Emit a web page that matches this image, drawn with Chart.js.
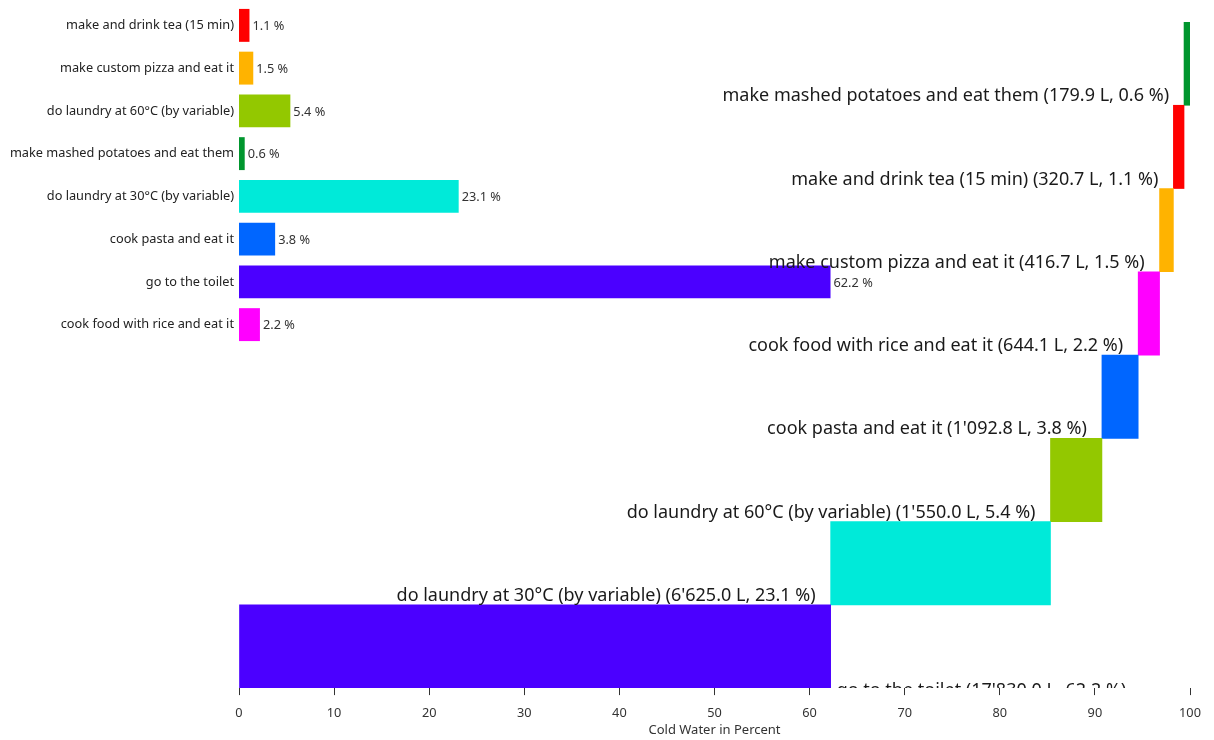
<!DOCTYPE html>
<html>
<head>
<meta charset="utf-8">
<script src="https://cdn.jsdelivr.net/npm/chart.js@4"></script>
<style>
  body { margin: 0; background: #fff; }
  #wrap { position: relative; width: 1214px; height: 740px; }
  canvas { position: absolute; left: 0; top: 0; }
</style>
</head>
<body>
<div id="wrap">
  <canvas id="small" width="1214" height="350"></canvas>
  <canvas id="waterfall" width="1214" height="740"></canvas>
</div>
<script>
const activities = [
  "make and drink tea (15 min)",
  "make custom pizza and eat it",
  "do laundry at 60°C (by variable)",
  "make mashed potatoes and eat them",
  "do laundry at 30°C (by variable)",
  "cook pasta and eat it",
  "go to the toilet",
  "cook food with rice and eat it",
];
const liters = [320.7, 416.7, 1550.0, 179.9, 6625.0, 1092.8, 17830.0, 644.1];
const percent = [1.1, 1.5, 5.4, 0.6, 23.1, 3.8, 62.2, 2.2];
const colors = [
  "#ff0000",
  "#ffb300",
  "#93c800",
  "#00962e",
  "#00ead9",
  "#0066ff",
  "#4b00ff",
  "#ff00ff",
];
const xTicks = [0, 10, 20, 30, 40, 50, 60, 70, 80, 90, 100];

Chart.defaults.font.family = '"Noto Sans", "Open Sans", sans-serif';
Chart.defaults.color = "#333";

function fmtLiters(v) {
  return v.toFixed(1).replace(/\B(?=(\d{3})+(?!\d))/g, "'");
}

// waterfall: biggest at the bottom, stacked towards 100 %
const total = liters.reduce((a, b) => a + b, 0);
const desc = liters.map((v, i) => i).sort((a, b) => liters[b] - liters[a]);
let acc = 0;
const ranges = {};
desc.forEach((i) => {
  const start = acc;
  acc += liters[i] / total * 100;
  ranges[i] = [start, acc];
});
const order = desc.slice().reverse(); // top of chart = smallest

const waterfallLabels = {
  id: "waterfallLabels",
  afterDatasetsDraw(chart) {
    const { ctx, chartArea } = chart;
    const meta = chart.getDatasetMeta(0);
    ctx.save();
    ctx.beginPath();
    ctx.rect(chartArea.left, chartArea.top, chartArea.right - chartArea.left, chartArea.bottom - chartArea.top);
    ctx.clip();
    ctx.font = '18px "Noto Sans"';
    ctx.fillStyle = "#1a1a1a";
    ctx.textBaseline = "alphabetic";
    meta.data.forEach((bar, k) => {
      const i = order[k];
      const p = bar.getProps(["x", "y", "base", "height"], true);
      const bottom = p.y + p.height / 2;
      const text = activities[i] + " (" + fmtLiters(liters[i]) + " L, " + percent[i].toFixed(1) + " %)";
      if (ranges[i][0] > 0) {
        ctx.textAlign = "right";
        ctx.fillText(text, Math.min(p.base, p.x) - 15, bottom - 4);
      } else {
        // no room on the left, goes after the bar (cut by the plot edge)
        ctx.textAlign = "left";
        ctx.fillText(text, Math.max(p.base, p.x) + 6, bottom + 8);
      }
    });
    ctx.restore();
  },
};

const valueLabels = {
  id: "valueLabels",
  afterDatasetsDraw(chart) {
    const { ctx } = chart;
    const meta = chart.getDatasetMeta(0);
    ctx.save();
    ctx.font = '12.75px "Noto Sans"';
    ctx.fillStyle = "#333";
    ctx.textAlign = "left";
    ctx.textBaseline = "middle";
    meta.data.forEach((bar, i) => {
      const p = bar.getProps(["x", "y"], true);
      ctx.fillText(percent[i].toFixed(1) + " %", p.x + 3, p.y + 1);
    });
    ctx.restore();
  },
};

new Chart(document.getElementById("small"), {
  type: "bar",
  data: {
    labels: activities,
    datasets: [{
      data: percent,
      backgroundColor: colors,
      barPercentage: 0.77,
      categoryPercentage: 1,
    }],
  },
  options: {
    responsive: false,
    animation: false,
    indexAxis: "y",
    layout: { padding: { top: 4, bottom: 4, right: 24, left: 0 } },
    plugins: { legend: { display: false }, tooltip: { enabled: false } },
    scales: {
      x: { display: false, min: 0, max: 100 },
      y: {
        grid: { display: false, drawTicks: false },
        border: { display: false },
        ticks: { font: { size: 12.75 }, color: "#222", padding: 5 },
        afterFit: (scale) => {
          scale.width = 239;
          scale.paddingTop = 0;
          scale.paddingBottom = 0;
        },
      },
    },
  },
  plugins: [valueLabels],
});

new Chart(document.getElementById("waterfall"), {
  type: "bar",
  data: {
    labels: order.map((i) => activities[i]),
    datasets: [{
      data: order.map((i) => ranges[i]),
      backgroundColor: order.map((i) => colors[i]),
      barPercentage: 1,
      categoryPercentage: 1,
    }],
  },
  options: {
    responsive: false,
    animation: false,
    indexAxis: "y",
    layout: { padding: { top: 22, left: 239, right: 24, bottom: 0 } },
    plugins: { legend: { display: false }, tooltip: { enabled: false } },
    scales: {
      x: {
        min: 0,
        max: 100,
        afterBuildTicks: (scale) => { scale.ticks = xTicks.map((v) => ({ value: v })); },
        grid: { drawOnChartArea: false, drawTicks: true, tickLength: 7, color: "#333" },
        border: { display: false },
        ticks: { font: { size: 12.75 }, color: "#333", padding: 11, maxRotation: 0 },
        title: {
          display: true,
          text: "Cold Water in Percent",
          font: { size: 13 },
          color: "#333",
          padding: { top: -10, bottom: 2 },
        },
      },
      y: { display: false },
    },
  },
  plugins: [waterfallLabels],
});
</script>
</body>
</html>
